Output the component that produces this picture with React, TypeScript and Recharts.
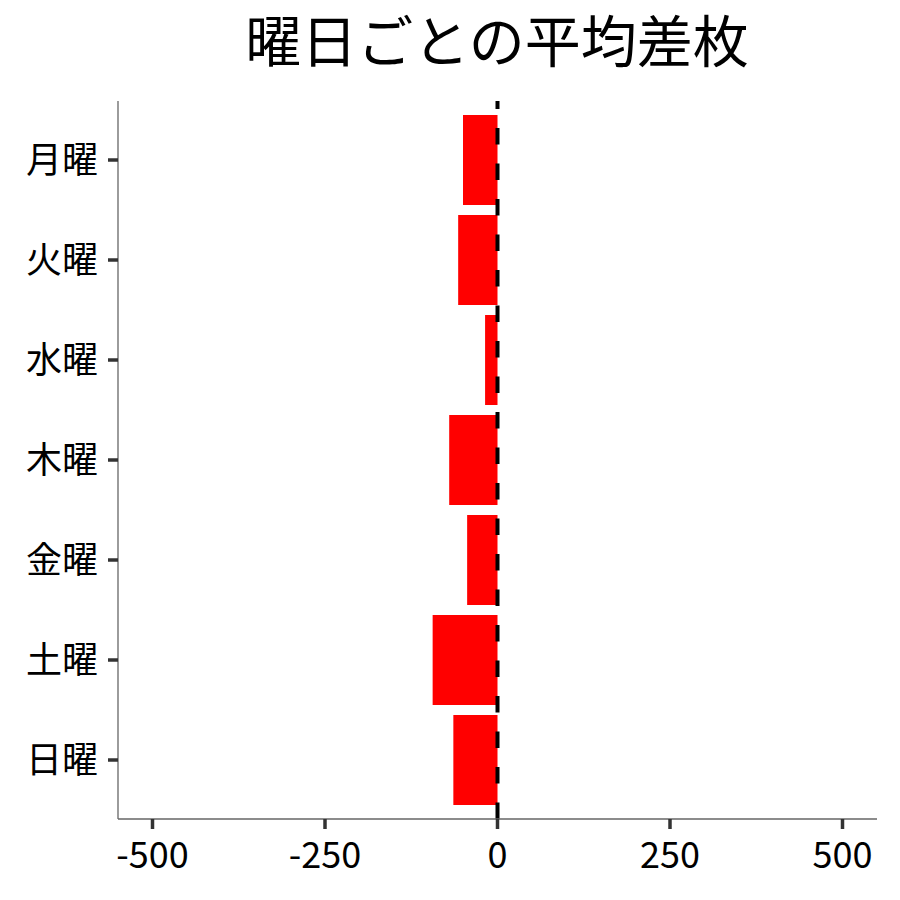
import React from 'react';
import { BarChart, Bar, XAxis, YAxis, ReferenceLine } from 'recharts';

const days = ['月曜', '火曜', '水曜', '木曜', '金曜', '土曜', '日曜'];
const avgDiff = [-50, -57, -18, -70, -44, -94, -64];
const xTicks = [-500, -250, 0, 250, 500];
const title = '曜日ごとの平均差枚';

const data = days.map((d, i) => ({ day: d, value: avgDiff[i] }));

const FONT = '"Noto Sans CJK JP", "Noto Sans", sans-serif';

export default function App() {
  return (
    <div style={{ position: 'absolute', left: 0, top: 0, width: 900, height: 900, background: '#fff', fontFamily: FONT }}>
      <div style={{ position: 'absolute', left: 0, top: 0 }}>
        <BarChart
          width={900}
          height={900}
          data={data}
          layout="vertical"
          margin={{ top: 101, right: 23, bottom: 21, left: 0 }}
          barCategoryGap="5%"
        >
          <XAxis
            type="number"
            dataKey="value"
            domain={[-550, 550]}
            ticks={xTicks}
            allowDataOverflow
            height={60}
            tickSize={10}
            tickMargin={13}
            axisLine={{ stroke: '#666', strokeWidth: 1.3 }}
            tickLine={{ stroke: '#333', strokeWidth: 3.5 }}
            tick={{ fill: '#000', fontSize: 36, fontFamily: FONT }}
          />
          <YAxis
            type="category"
            dataKey="day"
            width={118}
            padding={{ top: 9, bottom: 9 }}
            tickSize={10}
            tickMargin={10}
            axisLine={{ stroke: '#666', strokeWidth: 1.3 }}
            tickLine={{ stroke: '#333', strokeWidth: 3.5 }}
            tick={{ fill: '#000', fontSize: 36, fontFamily: FONT }}
          />
          <Bar dataKey="value" fill="#ff0000" isAnimationActive={false} />
          <ReferenceLine x={0} stroke="#000" strokeWidth={4} strokeDasharray="16.5 19" />
        </BarChart>
      </div>
      <div
        style={{
          position: 'absolute',
          left: 97,
          top: 10,
          width: 800,
          fontSize: 56,
          lineHeight: '56px',
          textAlign: 'center',
          color: '#000',
          fontFamily: FONT,
          whiteSpace: 'nowrap',
        }}
      >
        {title}
      </div>
    </div>
  );
}
